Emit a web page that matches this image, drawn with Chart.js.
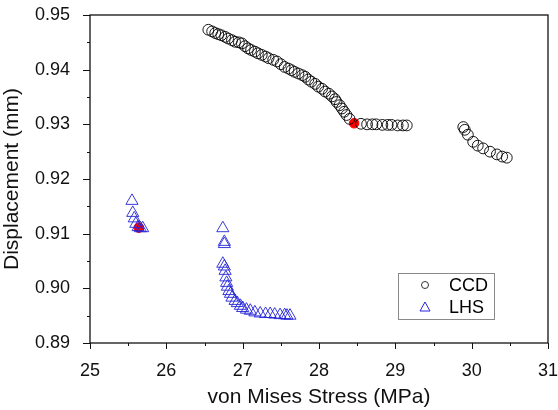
<!DOCTYPE html>
<html>
<head>
<meta charset="utf-8">
<script src="https://cdn.jsdelivr.net/npm/chart.js@4"></script>
<style>
html,body{margin:0;padding:0;background:#fff;}
#wrap{width:558px;height:410px;}
</style>
</head>
<body>
<div id="wrap"><canvas id="c" width="558" height="410"></canvas></div>
<script>
// ---- data ----
const ccdX = [26.55,26.60,26.64,26.68,26.72,26.77,26.81,26.86,26.90,26.95,26.99,27.03,27.07,27.11,27.16,27.20,27.25,27.30,27.34,27.40,27.45,27.50,27.55,27.60,27.64,27.68,27.73,27.78,27.82,27.86,27.90,27.95,27.99,28.04,28.08,28.13,28.17,28.21,28.23,28.27,28.30,28.33,28.36,28.40,
  28.55,28.63,28.70,28.75,28.83,28.90,28.95,29.03,29.10,29.15,
  29.89,29.91,29.95,30.02,30.08,30.15,30.24,30.33,30.40,30.46];
const ccdY = [0.9473,0.9470,0.9467,0.9465,0.9463,0.9460,0.9457,0.9454,0.9451,0.9450,0.9448,0.9443,0.9439,0.9436,0.9433,0.9430,0.9427,0.9424,0.9421,0.9418,0.9415,0.9410,0.9405,0.9402,0.9399,0.9396,0.9393,0.9390,0.9387,0.9382,0.9378,0.9374,0.9369,0.9365,0.9360,0.9356,0.9351,0.9346,0.9341,0.9335,0.9329,0.9323,0.9317,0.9310,
  0.9301,0.9300,0.9300,0.9300,0.9299,0.9299,0.9299,0.9298,0.9298,0.9298,
  0.9295,0.9290,0.9281,0.9268,0.9261,0.9256,0.9250,0.9245,0.9241,0.9239];
const lhsX = [25.55,25.56,25.58,25.60,25.63,25.66,25.69,
  26.74,26.76,26.76,26.74,26.76,26.77,26.78,26.79,26.80,26.82,26.84,26.86,26.90,26.93,26.97,27.00,27.05,27.10,27.16,27.23,27.30,27.36,27.42,27.49,27.55,27.58,27.62];
const lhsY = [0.9160,0.9138,0.9128,0.9118,0.9112,0.9110,0.9110,
  0.9110,0.9085,0.9081,0.9045,0.9040,0.9032,0.9020,0.9010,0.9003,0.8995,0.8990,0.8983,0.8977,0.8973,0.8968,0.8964,0.8961,0.8959,0.8956,0.8954,0.8953,0.8953,0.8952,0.8951,0.8951,0.8950,0.8950];
const optX = [28.46, 25.64];
const optY = [0.9302, 0.9111];
const seriesNames = ['CCD', 'LHS'];
const xTitle = 'von Mises Stress (MPa)';
const yTitle = 'Displacement (mm)';
const xMin = 25, xMax = 31, yMin = 0.89, yMax = 0.95;

const pts = (xs, ys) => xs.map((x, i) => ({x: x, y: ys[i]}));
const FONT = 'Liberation Sans, Arial, sans-serif';
const BLUE = '#2424d8';

const framePlugin = {
  id: 'frame',
  afterDraw(chart) {
    const ctx = chart.ctx, a = chart.chartArea;
    const xs = chart.scales.x, ys = chart.scales.y;
    ctx.save();
    ctx.strokeStyle = '#111';
    ctx.lineWidth = 1.3;
    ctx.strokeRect(a.left, a.top, a.right - a.left, a.bottom - a.top);
    ctx.lineWidth = 1;
    ctx.beginPath();
    for (let v = xMin; v <= xMax + 1e-9; v += 0.5) {
      const px = Math.round(xs.getPixelForValue(v)) + 0.5;
      const major = Math.abs(v - Math.round(v)) < 1e-6;
      ctx.moveTo(px, a.bottom);
      ctx.lineTo(px, a.bottom + (major ? 6 : 3));
    }
    for (let k = 0; k <= 12; k++) {
      const v = yMin + k * 0.005;
      const py = Math.round(ys.getPixelForValue(v)) + 0.5;
      ctx.moveTo(a.left, py);
      ctx.lineTo(a.left - (k % 2 === 0 ? 7 : 3), py);
    }
    ctx.stroke();

    // legend
    const lx = 398, ly = 273, lw = 96, lh = 46;
    ctx.fillStyle = '#fff';
    ctx.fillRect(lx, ly, lw, lh);
    ctx.strokeStyle = '#8a8a8a';
    ctx.lineWidth = 1;
    ctx.strokeRect(lx + 0.5, ly + 0.5, lw, lh);
    ctx.strokeStyle = '#333';
    ctx.beginPath();
    ctx.arc(425, 285, 3.5, 0, Math.PI * 2);
    ctx.stroke();
    ctx.strokeStyle = BLUE;
    ctx.beginPath();
    ctx.moveTo(425, 302);
    ctx.lineTo(430, 311);
    ctx.lineTo(420, 311);
    ctx.closePath();
    ctx.stroke();
    ctx.fillStyle = '#000';
    ctx.font = '18px ' + FONT;
    ctx.textBaseline = 'middle';
    ctx.textAlign = 'left';
    ctx.fillText(chart.data.datasets[0].label, 449, 286);
    ctx.fillText(chart.data.datasets[1].label, 449, 308);
    ctx.restore();
  }
};

new Chart(document.getElementById('c'), {
  type: 'scatter',
  data: {
    datasets: [
      {label: seriesNames[0], data: pts(ccdX, ccdY), pointStyle: 'circle', pointRadius: 5.4,
       borderColor: '#000', backgroundColor: 'rgba(255,255,255,0)', borderWidth: 0.9},
      {label: seriesNames[1], data: pts(lhsX, lhsY), pointStyle: 'triangle', pointRadius: 7,
       borderColor: BLUE, backgroundColor: 'rgba(255,255,255,0)', borderWidth: 0.9},
      {label: 'Optimum', data: pts(optX, optY), pointStyle: 'circle', pointRadius: 4.8,
       borderColor: '#ff0000', backgroundColor: '#ff0000', borderWidth: 1}
    ]
  },
  options: {
    responsive: false,
    animation: false,
    devicePixelRatio: 1,
    layout: {padding: {top: 15, right: 10, left: 0, bottom: 0}},
    plugins: {legend: {display: false}, tooltip: {enabled: false}},
    scales: {
      x: {
        type: 'linear', min: xMin, max: xMax,
        grid: {display: false},
        border: {display: false},
        ticks: {stepSize: 1, color: '#111', font: {family: FONT, size: 18}, padding: 9, maxRotation: 0,
                callback: v => String(v)},
        title: {display: true, text: xTitle, color: '#111', font: {family: FONT, size: 21}, padding: {top: 6, bottom: 0}},
        afterFit: s => { s.height = 67; s.paddingLeft = 0; s.paddingRight = 0; }
      },
      y: {
        type: 'linear', min: yMin, max: yMax,
        grid: {display: false},
        border: {display: false},
        ticks: {stepSize: 0.01, color: '#111', font: {family: FONT, size: 18}, padding: 12,
                callback: v => Number(v).toFixed(2)},
        title: {display: true, text: yTitle, color: '#111', font: {family: FONT, size: 21}, padding: {top: 0, bottom: 4}},
        afterFit: s => { s.width = 90; s.paddingTop = 0; s.paddingBottom = 0; }
      }
    }
  },
  plugins: [framePlugin]
});
</script>
</body>
</html>
